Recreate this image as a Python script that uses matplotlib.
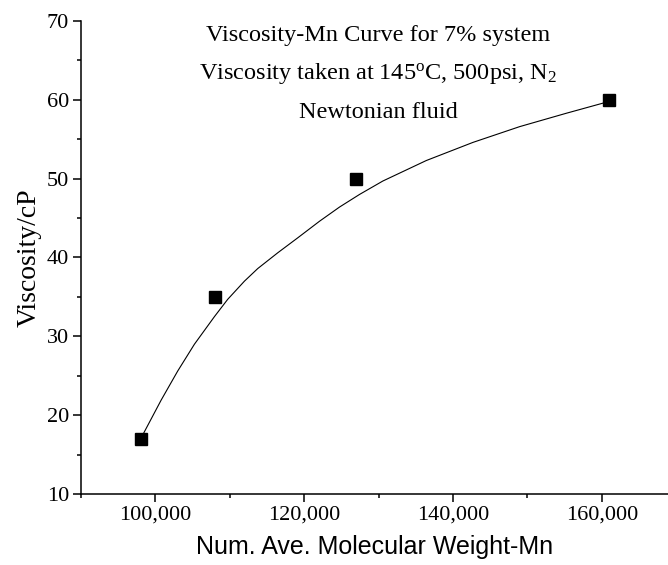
import matplotlib
matplotlib.use("Agg")
import matplotlib.pyplot as plt
from matplotlib.ticker import MultipleLocator, FuncFormatter

plt.rcParams['mathtext.fontset'] = 'custom'
plt.rcParams['mathtext.rm'] = 'Liberation Serif'
plt.rcParams['mathtext.it'] = 'Liberation Serif:italic'

# measured points
mn = [98000, 108000, 127000, 161000]
viscosity = [17, 35, 50, 60]

# fitted curve
curve_mn = [98300, 100767, 103000, 105245, 107935, 109724, 111970, 113760,
            116449, 119140, 122060, 124750, 127440, 130570, 136410, 142680,
            148960, 155240, 161000]
curve_visc = [17.5, 21.9, 25.6, 29.0, 32.5, 34.7, 37.0, 38.6,
              40.6, 42.5, 44.6, 46.4, 48.0, 49.7, 52.3, 54.6,
              56.6, 58.3, 59.8]

notes = ["Viscosity-Mn Curve for 7% system",
         r"Viscosity taken at 145$^{\rm o}$C, 500psi, N$_{\rm 2}$",
         "Newtonian fluid"]

serif = "Liberation Serif"

fig = plt.figure(figsize=(6.68, 5.65), dpi=100)
ax = fig.add_axes([81 / 668, 1 - 494 / 565, 1 - 81 / 668, (494 - 21) / 565])

ax.plot(curve_mn, curve_visc, color="black", lw=0.8)
ax.plot(mn, viscosity, ls="none", marker="s", ms=8.5, color="black")

ax.set_xlim(90000, 168900)
ax.set_ylim(10, 70)

for s in ["top", "right"]:
    ax.spines[s].set_visible(False)
for s in ["left", "bottom"]:
    ax.spines[s].set_linewidth(1.1)

ax.xaxis.set_major_locator(MultipleLocator(20000))
ax.xaxis.set_minor_locator(MultipleLocator(10000))
ax.yaxis.set_major_locator(MultipleLocator(10))
ax.yaxis.set_minor_locator(MultipleLocator(5))
ax.xaxis.set_major_formatter(FuncFormatter(lambda v, p: "{:,.0f}".format(v)))

ax.tick_params(which="major", direction="out", length=5.5, width=1.1,
               labelsize=16, pad=3)
ax.tick_params(which="minor", direction="out", length=3, width=1.1)
for lab in ax.get_xticklabels() + ax.get_yticklabels():
    lab.set_fontfamily(serif)

ax.set_xlabel("Num. Ave. Molecular Weight-Mn", fontsize=18,
              fontfamily="Liberation Sans", labelpad=7)
ax.set_ylabel("Viscosity/cP", fontsize=20, fontfamily=serif, labelpad=4)

ys = [1 - 35 / 565, 1 - 73 / 565, 1 - 112 / 565]
for txt, y in zip(notes, ys):
    fig.text(378 / 668, y, txt, ha="center", va="center", fontsize=17.5,
             fontfamily=serif)

fig.savefig("out.png", dpi=100)
